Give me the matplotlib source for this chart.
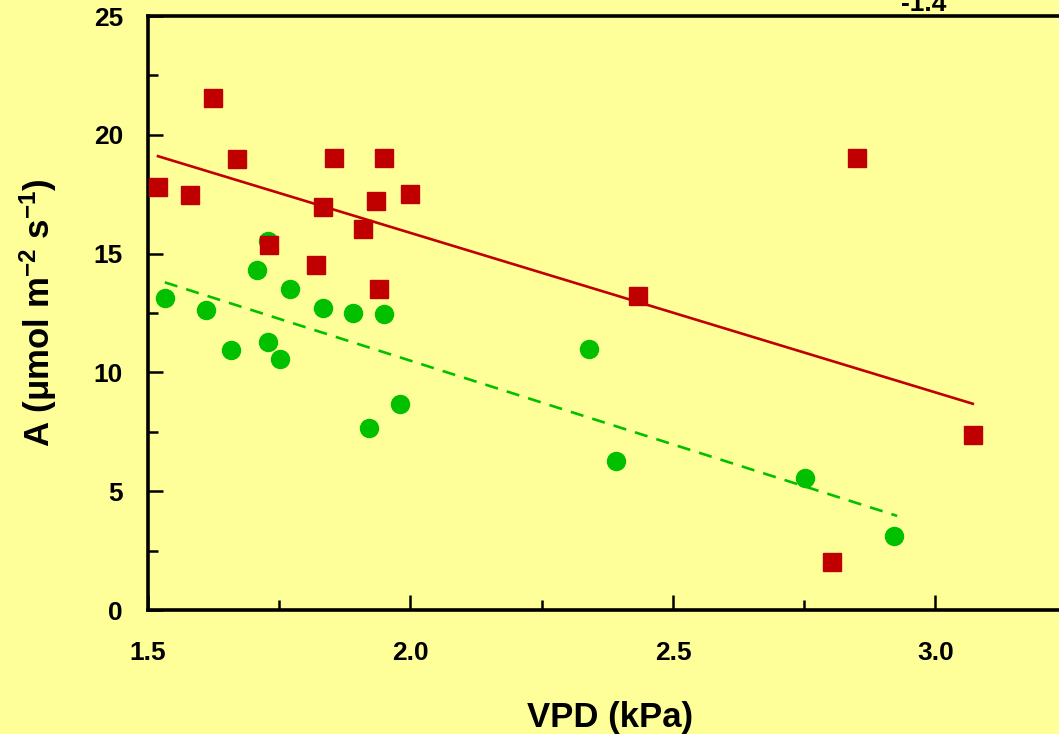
import matplotlib
matplotlib.use("Agg")
import matplotlib.pyplot as plt
from matplotlib.ticker import MultipleLocator

plt.rcParams['font.family'] = ['Liberation Sans', 'DejaVu Sans']
plt.rcParams['font.weight'] = 'bold'
plt.rcParams['mathtext.fontset'] = 'custom'
plt.rcParams['mathtext.rm'] = 'Liberation Sans:bold'
plt.rcParams['mathtext.bf'] = 'Liberation Sans:bold'
plt.rcParams['mathtext.it'] = 'Liberation Sans:bold'

# Data
red_vpd = [1.519, 1.580, 1.624, 1.670, 1.730, 1.820, 1.833, 1.854, 1.910,
           1.934, 1.940, 1.950, 1.999, 2.433, 2.850, 3.071, 2.803]
red_A = [17.79, 17.45, 21.54, 18.97, 15.35, 14.50, 16.95, 19.01, 16.02,
         17.20, 13.49, 19.01, 17.50, 13.20, 19.01, 7.38, 2.02]

green_vpd = [1.532, 1.610, 1.658, 1.708, 1.729, 1.729, 1.751, 1.770, 1.833,
             1.890, 1.950, 1.921, 1.980, 2.340, 2.391, 2.751, 2.921]
green_A = [13.15, 12.61, 10.96, 14.29, 15.51, 11.30, 10.58, 13.49, 12.69,
           12.48, 12.44, 7.67, 8.68, 11.00, 6.28, 5.56, 3.12]

red_fit_x = [1.519, 3.071]
red_fit_y = [19.10, 8.68]
green_fit_x = [1.532, 2.927]
green_fit_y = [13.79, 3.96]

x_ticks = [1.5, 2.0, 2.5, 3.0]
x_ticklabels = ['1.5', '2.0', '2.5', '3.0']
y_ticks = [0, 5, 10, 15, 20, 25]

RED = '#C00000'
GREEN = '#00C000'
BG = '#FFFF99'

W, H = 1059, 734
fig = plt.figure(figsize=(W / 100, H / 100), dpi=100, facecolor=BG)
xmin, xmax = 1.5, 3.3
px_per_unit = 525.0
left_px, top_px, bottom_px = 148, 16, 610
ax_w_px = (xmax - xmin) * px_per_unit
ax = fig.add_axes([left_px / W, 1 - bottom_px / H, ax_w_px / W, (bottom_px - top_px) / H])
ax.set_facecolor(BG)

ax.plot(red_fit_x, red_fit_y, color=RED, lw=1.9, zorder=2)
ax.plot(green_fit_x, green_fit_y, color=GREEN, lw=1.9, ls=(0, (5, 3.5)), zorder=2)
ax.plot(green_vpd, green_A, 'o', color=GREEN, ms=13, mec=GREEN, zorder=3, clip_on=False)
ax.plot(red_vpd, red_A, 's', color=RED, ms=12.5, mec=RED, zorder=4, clip_on=False)

ax.set_xlim(xmin, xmax)
ax.set_ylim(0, 25)
ax.set_xticks(x_ticks)
ax.set_xticklabels(x_ticklabels)
ax.set_yticks(y_ticks)
ax.xaxis.set_minor_locator(MultipleLocator(0.25))
ax.yaxis.set_minor_locator(MultipleLocator(2.5))

for s in ['left', 'bottom', 'top', 'right']:
    ax.spines[s].set_linewidth(2.6)
ax.tick_params(axis='both', which='major', direction='in', length=10.5, width=1.8,
               labelsize=19)
ax.tick_params(axis='both', which='minor', direction='in', length=7, width=1.8)
ax.tick_params(axis='x', which='both', top=False, pad=22)
ax.tick_params(axis='y', which='both', right=False, pad=18)
for lab in ax.get_xticklabels() + ax.get_yticklabels():
    lab.set_fontweight('bold')

fig.text(610 / W, 1 - 718 / H, 'VPD (kPa)', ha='center', va='center',
         fontsize=25, fontweight='bold')
fig.text(38 / W, 1 - 313 / H, r'A ($\mu$mol m$^{-2}$ s$^{-1}$)', ha='center', va='center',
         rotation=90, fontsize=25, fontweight='bold')
fig.text(924 / W, 1 - 11 / H, '-1.4', ha='center', va='baseline',
         fontsize=19, fontweight='bold')

fig.savefig('out.png', dpi=100, facecolor=BG)
